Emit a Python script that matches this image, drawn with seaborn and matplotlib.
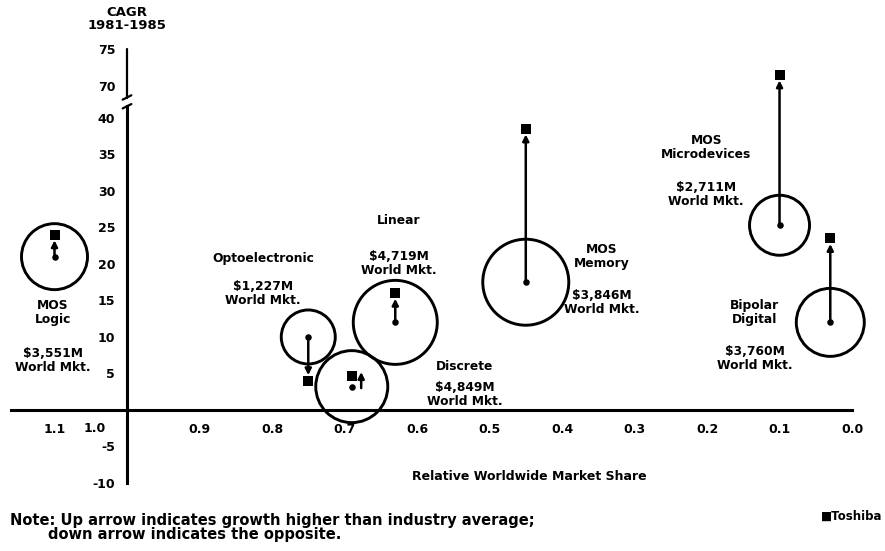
import numpy as np
import pandas as pd
import matplotlib
matplotlib.use("Agg")
import matplotlib.pyplot as plt
import seaborn as sns

# values
segments = ["MOS Logic", "Optoelectronic", "Discrete", "Linear",
            "MOS Memory", "MOS Microdevices", "Bipolar Digital"]
share = [1.10, 0.75, 0.69, 0.63, 0.45, 0.10, 0.03]
cagr_market = [21.0, 10.0, 3.2, 12.0, 17.5, 25.3, 12.0]
cagr_toshiba = [24.0, 4.0, 4.6, 16.0, 38.5, 71.5, 23.5]
world_mkt = ["$3,551M", "$1,227M", "$4,849M", "$4,719M", "$3,846M", "$2,711M", "$3,760M"]
bubble = [33, 27, 36, 42, 43, 30, 34]  # circle radius as drawn

x_ticks = [1.1, 1.0, 0.9, 0.8, 0.7, 0.6, 0.5, 0.4, 0.3, 0.2, 0.1, 0.0]
y_ticks = [-10, -5, 5, 10, 15, 20, 25, 30, 35, 40, 70, 75]

df = pd.DataFrame({"segment": segments, "share": share,
                   "market": cagr_market, "toshiba": cagr_toshiba,
                   "bubble": bubble})
df["area"] = (2 * df["bubble"] * 0.72) ** 2


# broken y axis: 40..70 squeezed into a short gap
def forward(v):
    v = np.asarray(v, dtype=float)
    return np.where(v <= 40, v, np.where(v < 70, 40 + (v - 40) * 4.4 / 30, v - 25.6))


def inverse(f):
    f = np.asarray(f, dtype=float)
    return np.where(f <= 40, f, np.where(f < 44.4, 40 + (f - 40) * 30 / 4.4, f + 25.6))


sns.set_style("white")
plt.rcParams["font.family"] = ["DejaVu Sans"]
plt.rcParams["font.weight"] = "bold"
plt.rcParams["text.color"] = "black"
plt.rcParams["xtick.color"] = "black"
plt.rcParams["ytick.color"] = "black"

fig = plt.figure(figsize=(8.85, 5.51), dpi=100)
ax = fig.add_axes([0.01243, 0.0969, 0.9749, 0.8269])
ax.set_yscale("function", functions=(forward, inverse))
ax.set_xlim(1.16, -0.03)
ax.set_ylim(-12, 76)

# bubbles
sns.scatterplot(data=df, x="share", y="market", s=df["area"], facecolors="none",
                edgecolor="black", linewidth=2.1, legend=False, ax=ax, zorder=3)

# arrows from market growth to Toshiba growth
for _, r in df.iterrows():
    x = r["share"]
    if abs(r["toshiba"] - r["market"]) < 3:
        x = x - 0.013
        start, end = r["market"] - 0.2, r["toshiba"] + 0.6
        shrink = 0
    else:
        start, end = r["market"], r["toshiba"]
        shrink = 4
    ax.annotate("", xy=(x, end), xytext=(x, start),
                arrowprops=dict(arrowstyle="-|>", color="black", lw=1.8,
                                shrinkA=0, shrinkB=shrink, mutation_scale=9),
                zorder=4)

sns.scatterplot(data=df, x="share", y="market", color="black", s=22,
                linewidth=0, legend=False, ax=ax, zorder=5)
sns.scatterplot(data=df, x="share", y="toshiba", color="black", marker="s", s=42,
                linewidth=0, legend=False, ax=ax, zorder=5)

# axes drawn through the origin like the original
for side in ["top", "right"]:
    ax.spines[side].set_visible(False)
ax.spines["left"].set_position(("data", 1.0))
ax.spines["bottom"].set_position(("data", 0))
ax.spines["left"].set_bounds(-10, float(inverse(41.6)))
ax.spines["bottom"].set_bounds(0.0, 1.16)
for side in ["left", "bottom"]:
    ax.spines[side].set_linewidth(2.2)
    ax.spines[side].set_color("black")

ax.set_xticks(x_ticks)
ax.set_xticklabels(["" if t == 1.0 else f"{t:.1f}" for t in x_ticks])
ax.set_yticks(y_ticks)
ax.set_yticklabels([str(t) for t in y_ticks])
ax.tick_params(axis="both", direction="inout", length=13, width=1.8,
               colors="black", labelsize=9)
ax.tick_params(axis="x", pad=3)
ax.tick_params(axis="y", pad=2)
ax.set_xlabel("")
ax.set_ylabel("")

# upper piece of the broken axis and break marks
ax.plot([1.0, 1.0], [float(inverse(42.7)), 75], color="black", lw=1.6, zorder=2)
ax.plot([1.006, 0.994], [float(inverse(41.3)), float(inverse(41.9))], color="black", lw=1.6)
ax.plot([1.006, 0.994], [float(inverse(42.5)), float(inverse(43.1))], color="black", lw=1.6)

ax.text(1.044, -2.6, "1.0", ha="center", va="center", fontsize=9)

# segment labels
labels = [
    (1.102, 13.3, "MOS\nLogic"), (1.102, 6.8, "$3,551M\nWorld Mkt."),
    (0.812, 20.8, "Optoelectronic"), (0.812, 15.9, "$1,227M\nWorld Mkt."),
    (0.625, 26.0, "Linear"), (0.625, 20.0, "$4,719M\nWorld Mkt."),
    (0.534, 5.9, "Discrete"), (0.534, 2.1, "$4,849M\nWorld Mkt."),
    (0.345, 21.0, "MOS\nMemory"), (0.345, 14.7, "$3,846M\nWorld Mkt."),
    (0.201, 35.9, "MOS\nMicrodevices"), (0.201, 29.5, "$2,711M\nWorld Mkt."),
    (0.134, 13.4, "Bipolar\nDigital"), (0.134, 7.0, "$3,760M\nWorld Mkt."),
]
for lx, ly, txt in labels:
    ax.text(lx, ly, txt, ha="center", va="center", fontsize=8.8,
            linespacing=1.1)

fig.text(0.1435, 0.966, "CAGR\n1981-1985", ha="center", va="center",
         fontsize=9.5, linespacing=1.0)
fig.text(529 / 885, 1 - 477 / 551, "Relative Worldwide Market Share",
         ha="center", va="center", fontsize=9)
fig.text(0.011, 1 - 520 / 551, "Note: Up arrow indicates growth higher than industry average;",
         ha="left", va="center", fontsize=10.5)
fig.text(0.054, 1 - 535 / 551, "down arrow indicates the opposite.",
         ha="left", va="center", fontsize=10.5)
fig.text(0.997, 1 - 516 / 551, "■Toshiba", ha="right", va="center", fontsize=8.5)

fig.savefig("out.png", dpi=100, facecolor="white")
